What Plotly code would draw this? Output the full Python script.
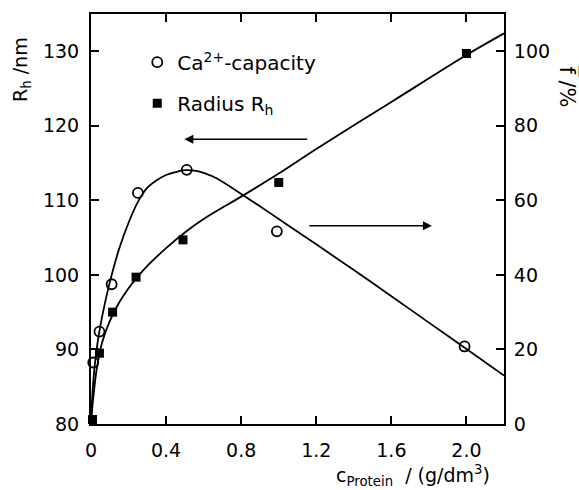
import plotly.graph_objects as go

# ---- data ----
# Ca2+-capacity (right axis, %)
ca_x = [0.012, 0.045, 0.11, 0.25, 0.51, 0.99, 1.99]
ca_y = [16.5, 24.8, 37.5, 62.0, 68.2, 51.7, 20.8]
# Radius R_h (left axis, nm)
rh_x = [0.008, 0.045, 0.115, 0.24, 0.49, 1.0, 2.0]
rh_y = [80.6, 89.5, 95.0, 99.7, 104.7, 112.4, 129.7]

# fitted curves
ca_fit_x = [0, 0.01, 0.03, 0.06, 0.1, 0.15, 0.2, 0.25, 0.3, 0.35, 0.4, 0.45, 0.5, 0.55, 0.6, 0.65,
            0.7, 0.75, 0.8, 0.9, 1.0, 1.2, 1.4, 1.6, 1.8, 2.0, 2.2]
ca_fit_y = [0, 10, 20, 29, 38, 47, 54, 59.6, 63.4, 65.4, 66.8, 67.6, 68.1, 68.0, 67.4, 66.4,
            65.0, 63.4, 61.7, 58.4, 55.0, 48.2, 41.3, 34.3, 27.2, 20.1, 13.0]
rh_fit_x = [0, 0.01, 0.03, 0.06, 0.1, 0.15, 0.2, 0.25, 0.3, 0.4, 0.5, 0.6, 0.8, 1.0, 1.2, 1.6, 2.0, 2.2]
rh_fit_y = [80.3, 83.0, 87.3, 91.0, 93.8, 96.3, 98.2, 99.8, 101.2, 103.6, 105.7, 107.5, 110.5, 113.6, 116.9, 123.2, 129.5, 132.4]

x_ticks = [0, 0.4, 0.8, 1.2, 1.6, 2.0]
x_labels = ["0", "0.4", "0.8", "1.2", "1.6", "2.0"]
left_ticks = [80, 90, 100, 110, 120, 130]
right_ticks = [0, 20, 40, 60, 80, 100]

FONT = "DejaVu Sans"
fig = go.Figure()

fig.add_trace(go.Scatter(x=ca_fit_x, y=ca_fit_y, mode="lines", yaxis="y2",
                         line=dict(color="black", width=1.8, shape="spline", smoothing=0.8),
                         showlegend=False, hoverinfo="skip"))
fig.add_trace(go.Scatter(x=rh_fit_x, y=rh_fit_y, mode="lines", yaxis="y",
                         line=dict(color="black", width=1.8, shape="spline", smoothing=0.9),
                         showlegend=False, hoverinfo="skip"))

fig.add_trace(go.Scatter(x=ca_x, y=ca_y, mode="markers", yaxis="y2", name="Ca<sup>2+</sup>-capacity",
                         legendgroup="a", cliponaxis=False,
                         marker=dict(symbol="circle-open", size=10, color="black", line=dict(width=1.8))))
fig.add_trace(go.Scatter(x=rh_x, y=rh_y, mode="markers", yaxis="y", name="Radius R<sub>h</sub>",
                         legendgroup="b", cliponaxis=False,
                         marker=dict(symbol="square", size=9, color="black")))

axis_common = dict(showgrid=False, zeroline=False, showline=True, linecolor="black", linewidth=2,
                   ticks="inside", ticklen=8, tickwidth=2, tickcolor="black",
                   tickfont=dict(family=FONT, size=19, color="black"))

fig.update_layout(
    width=579, height=490,
    margin=dict(l=91, r=75, t=12, b=66),
    paper_bgcolor="white", plot_bgcolor="white",
    xaxis=dict(range=[0, 2.2], tickvals=x_ticks, ticktext=x_labels, mirror="ticks",
               ticklabelstandoff=8, **axis_common),
    yaxis=dict(range=[80, 135], tickvals=left_ticks, ticklabelstandoff=6, **axis_common),
    yaxis2=dict(range=[0, 110], tickvals=right_ticks, overlaying="y", side="right",
                ticklabelstandoff=4, **axis_common),
    legend=dict(x=0.112, y=0.93, xanchor="left", yanchor="top", bgcolor="rgba(0,0,0,0)",
                font=dict(family=FONT, size=20, color="black"), tracegroupgap=12,
                itemsizing="trace"),
    showlegend=True,
)

ann = []
ann.append(dict(text="R<sub>h</sub> /nm", xref="paper", yref="paper", x=-0.168, y=0.865,
                textangle=-90, showarrow=False, font=dict(family=FONT, size=19, color="black"),
                xanchor="center", yanchor="middle"))
ann.append(dict(text="f\u0305 /%", xref="paper", yref="paper",
                x=1.155, y=0.823, textangle=90, showarrow=False,
                font=dict(family=FONT, size=21, color="black"), xanchor="center", yanchor="middle"))
ann.append(dict(text="c<sub>Protein</sub>  / (g/dm<sup>3</sup>)", xref="paper", yref="paper",
                x=0.78, y=-0.125, showarrow=False, font=dict(family=FONT, size=19, color="black"),
                xanchor="center", yanchor="middle"))
# arrows pointing to the relevant axes
ann.append(dict(x=0.497, y=118.2, ax=1.16, ay=118.2, xref="x", yref="y", axref="x", ayref="y",
                text="", showarrow=True, arrowhead=2, arrowsize=1.2, arrowwidth=1.5, arrowcolor="black"))
ann.append(dict(x=1.816, y=106.6, ax=1.155, ay=106.6, xref="x", yref="y", axref="x", ayref="y",
                text="", showarrow=True, arrowhead=2, arrowsize=1.2, arrowwidth=1.5, arrowcolor="black"))
fig.update_layout(annotations=ann)

fig.write_html("out.html")
